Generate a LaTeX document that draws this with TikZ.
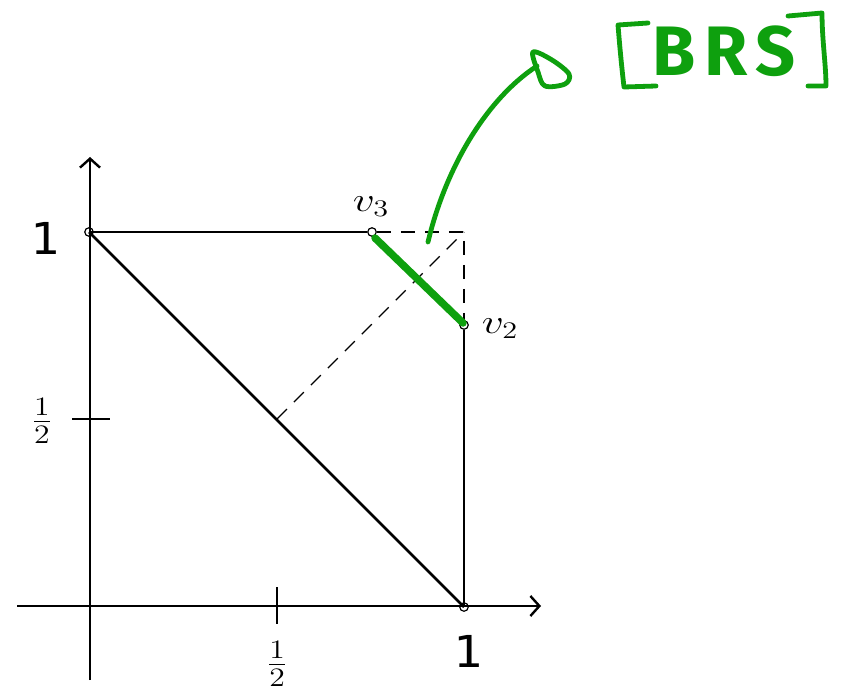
\documentclass[tikz,border=0pt]{standalone}
\usepackage{fontspec}
\newfontfamily\hand[LetterSpace=12]{Fira Sans}
\newfontfamily\one{DejaVu Sans Mono}
\usetikzlibrary{arrows.meta}
\definecolor{pen}{RGB}{14,160,14}
\begin{document}
\begin{tikzpicture}[x=1pt,y=-1pt,
  axis/.style={line width=2.8pt,-{Straight Barb[length=9pt,width=20pt,line width=2.4pt]}},
  edge/.style={line width=2.8pt},
  tick/.style={line width=1.6pt},
  dashln/.style={line width=1.4pt,dash pattern=on 14pt off 10pt},
  hl/.style={pen,line width=7.5pt,line cap=round},
  vtx/.style={circle,draw,fill=white,line width=1.2pt,inner sep=0pt,minimum size=8.5pt},
  penline/.style={pen,line width=4.8pt,line cap=round,line join=round},
  handone/.style={font=\one\fontsize{44}{44}\selectfont,xscale=1.1},
  lbl/.style={font=\huge,xscale=2.1,yscale=1.65},
  frc/.style={font=\huge,xscale=2.2,yscale=1.85}]
\useasboundingbox (0,0) rectangle (845,695);
\fill[white] (0,0) rectangle (845,695);
% coordinates
\coordinate (xs) at (17,606);
\coordinate (xe) at (541,606);
\coordinate (ys) at (90,680);
\coordinate (ye) at (90,157);
\coordinate (C) at (464,232);
\coordinate (M) at (277,419);
\coordinate (tx1) at (277,587); \coordinate (tx2) at (277,624);
\coordinate (ty1) at (72,419);  \coordinate (ty2) at (110,419);
% vertices (drawn first, lines pass over them)
\node[vtx] (Y1) at (89,232) {};
\node[vtx] (v3) at (372,232) {};
\node[vtx] (v2) at (464,325) {};
\node[vtx] (X1) at (464,607) {};
% axes
\draw[axis] (xs) -- (xe);
\draw[axis] (ys) -- (ye);
\draw[tick] (tx1) -- (tx2);
\draw[tick] (ty1) -- (ty2);
% edges
\draw[edge] (Y1.center) -- (v3.west);
\draw[edge] (Y1.center) -- (X1.center);
\draw[edge] (v2.south) -- (X1.center);
\draw[dashln] (v3.east) -- (C) -- (v2.north);
\draw[dashln] (M) -- (C);
\draw[hl] ([shift={(3,6)}]v3.center) -- ([shift={(-1,-2)}]v2.center);
% labels
\node[lbl] (lv3) at (371,207) {$v_3$};
\node[lbl] (lv2) at (500,329) {$v_2$};
\node[frc] (hx) at (277,664) {$\frac{1}{2}$};
\node[frc] (hy) at (42,421) {$\frac{1}{2}$};
\node[handone] (oy) at (45,238) {1};
\node[handone] (ox) at (468,651) {1};
% green annotation
\node[pen,font=\hand\bfseries\fontsize{70}{70}\selectfont] (brs) at (724,51) {BRS};
\draw[penline] (648,23) -- (618,25) .. controls (620,50) and (622,70) .. (624,87) -- (656,86);
\draw[penline] (788,16) -- (822,13) .. controls (822,40) and (826,65) .. (826,86) -- (808,86);
\draw[penline] (428,242) .. controls (445,170) and (485,100) .. (537,66);
\draw[penline] plot[smooth cycle,tension=0.55] coordinates {(533,52) (552,60) (569,74) (565,84) (545,86) (538,72)};
\end{tikzpicture}
\end{document}
